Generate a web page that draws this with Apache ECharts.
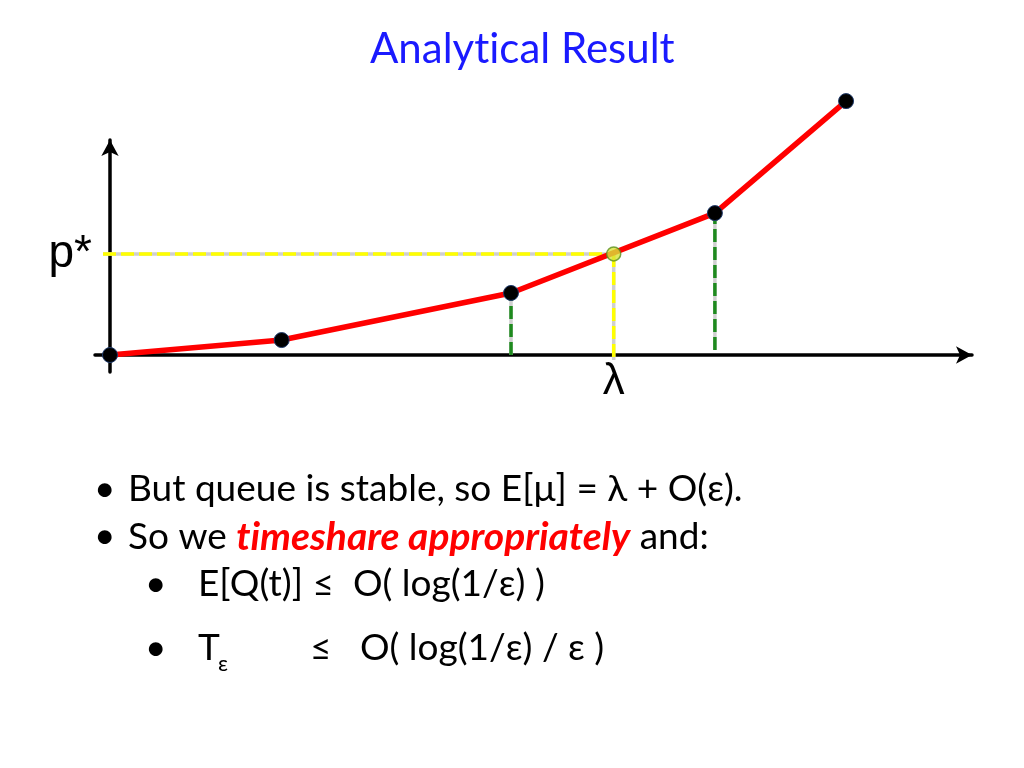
<!DOCTYPE html>
<html><head><meta charset="utf-8">
<script src="https://cdn.jsdelivr.net/npm/echarts@6/dist/echarts.min.js"></script>
<style>html,body{margin:0;padding:0;background:#fff}#c{width:1024px;height:768px}</style>
</head><body><div id="c"></div>
<script>
// ---- data (arbitrary units) ----
const xs = [0, 22.9, 53.5, 80.7, 98.2];          // polyline x
const ys = [0, 0.88, 3.65, 8.35, 14.94];          // polyline y
const lambda = 67.2;                               // λ on x axis
const pStar = 5.95;                                // p* on y axis
const greenIdx = [2, 3];                           // points with green drop lines
const greenBottom = [0, 0.3];                      // where the green lines stop
const yellowLeft = -0.93;                          // start of the p* guide
const yellowBottom = -0.3;                         // end of the λ guide
const xTickLabels = ['λ'];
const yTickLabels = ['p*'];
const titleText = 'Analytical Result';

const FONT = 'Lato';
const ZW = '\u200C'; // breaks Lato's "ti" ligature
const noLig = s => s.replace(/ti/g, 't' + ZW + 'i');
const chart = echarts.init(document.getElementById('c'));

const dash = [13, 5];
function guide(name, pts, color, z) {
  return [
    {type:'line', name:name+'_bg', data:pts, symbol:'none', silent:true, z:z,
     lineStyle:{color:'#cfcfcf', width:3.5}},
    {type:'line', name:name, data:pts, symbol:'none', silent:true, z:z+0.1,
     lineStyle:{color:color, width:3.5, type:dash}}
  ];
}

const series = [];
greenIdx.forEach((i, k) => {
  series.push(...guide('g'+i, [[xs[i], greenBottom[k]], [xs[i], ys[i]]], '#1e8a1e', 2));
});
series.push(...guide('yh', [[yellowLeft, pStar], [lambda, pStar]], '#ffff00', 2));
series.push(...guide('yv', [[lambda, pStar], [lambda, yellowBottom]], '#ffff00', 2));
series.push({
  type:'line', name:'curve', data: xs.map((x,i)=>[x, ys[i]]), clip:false, z:5,
  lineStyle:{color:'#ff0000', width:5.5},
  symbol:'circle', symbolSize:15,
  itemStyle:{color:'#000', borderColor:'#1f3a6b', borderWidth:1}
});
series.push({
  type:'scatter', name:'lam', data:[[lambda, pStar]], z:6, symbolSize:14,
  itemStyle:{color:'#d8e33a', borderColor:'#5a8f1e', borderWidth:1.5}
});

const BF = '37px ' + FONT;
chart.setOption({
  animation:false,
  backgroundColor:'#fff',
  title:[{
    text:noLig(titleText), left:365, top:23,
    textStyle:{color:'#1a1aff', fontFamily:FONT, fontSize:42, fontWeight:'normal'}
  }],
  grid:{left:95, right:52, top:140, bottom:396},
  xAxis:{type:'value', min:-2, max:115, splitLine:{show:false},
    axisLine:{onZero:true, lineStyle:{color:'#000', width:3.5}, symbol:['none','arrow'], symbolSize:[13,16]},
    axisTick:{show:false},
    axisLabel:{customValues:[lambda], formatter:()=>xTickLabels[0], margin:-12,
      fontFamily:'Liberation Sans', fontSize:44, color:'#000'}
  },
  yAxis:{type:'value', min:-1, max:12.65, splitLine:{show:false},
    axisLine:{onZero:true, lineStyle:{color:'#000', width:3.5}, symbol:['none','arrow'], symbolSize:[13,16]},
    axisTick:{show:false},
    axisLabel:{customValues:[pStar], formatter:()=>yTickLabels[0], margin:3,
      fontFamily:'Liberation Sans', fontSize:46, color:'#000'}
  },
  series: series,
  graphic:[
    {type:'text', left:94, top:471, style:{text:'•', font:BF, fill:'#000'}},
    {type:'text', left:128, top:471, style:{text:'But queue is stable, so E[μ] = λ + O(ε).', font:BF, fill:'#000'}},
    {type:'text', left:94, top:518, style:{text:'•', font:BF, fill:'#000'}},
    {type:'text', left:128, top:518, style:{
      text:'So we {r|' + noLig('timeshare appropriately') + '} and:', font:BF, fill:'#000',
      rich:{r:{fontFamily:FONT, fontSize:39, fontWeight:'bold', fontStyle:'italic', fill:'#ff0000', color:'#ff0000'}}}},
    {type:'text', left:145, top:566, style:{text:'•', font:BF, fill:'#000'}},
    {type:'text', left:198, top:566, style:{text:'E[Q(t)] ≤  O( log(1/ε) )', font:BF, fill:'#000'}},
    {type:'text', left:145, top:630, style:{text:'•', font:BF, fill:'#000'}},
    {type:'text', left:198, top:630, style:{text:'T', font:BF, fill:'#000'}},
    {type:'text', left:218, top:653, style:{text:'ε', font:'22px '+FONT, fill:'#000'}},
    {type:'text', left:310, top:630, style:{text:'≤   O( log(1/ε) / ε )', font:BF, fill:'#000'}}
  ]
});
</script></body></html>
